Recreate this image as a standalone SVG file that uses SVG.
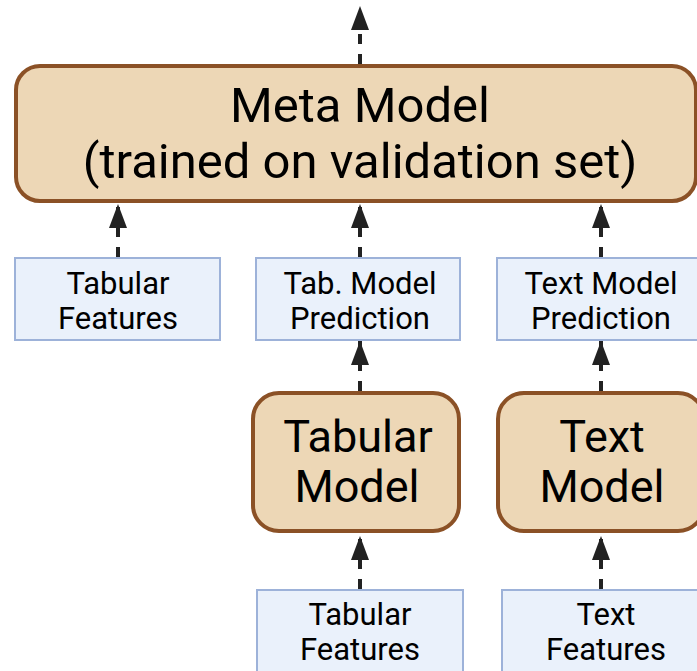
<svg xmlns="http://www.w3.org/2000/svg" width="697" height="671" viewBox="0 0 697 671">
  <style>
    .model { fill: #EDD7B6; stroke: #8B5126; stroke-width: 4; }
    .data { fill: #EAF1FB; stroke: #9DB2D9; stroke-width: 2; }
    .big { font-family: Roboto, "Liberation Sans", sans-serif; font-size: 49px; fill: #000; text-anchor: middle; }
    .mid { font-family: Roboto, "Liberation Sans", sans-serif; font-size: 45px; fill: #000; text-anchor: middle; }
    .small { font-family: Roboto, "Liberation Sans", sans-serif; font-size: 31px; fill: #000; text-anchor: middle; }
    .conn { stroke: #222; stroke-width: 4; stroke-dasharray: 10 10; fill: none; }
  </style>
  <defs>
    <marker id="head" markerUnits="userSpaceOnUse" markerWidth="24" markerHeight="18" refX="24" refY="9" orient="auto" viewBox="0 0 24 18">
      <path d="M0,0 L24,9 L0,18 Z" fill="#222"/>
    </marker>
  </defs>

  <g id="connectors">
    <line class="conn" x1="360" y1="64" x2="360" y2="6" marker-end="url(#head)"/>
    <line class="conn" x1="118" y1="257" x2="118" y2="204" marker-end="url(#head)"/>
    <line class="conn" x1="360" y1="257" x2="360" y2="204" marker-end="url(#head)"/>
    <line class="conn" x1="601" y1="257" x2="601" y2="204" marker-end="url(#head)"/>
    <line class="conn" x1="360" y1="391" x2="360" y2="341" marker-end="url(#head)"/>
    <line class="conn" x1="601" y1="391" x2="601" y2="341" marker-end="url(#head)"/>
    <line class="conn" x1="360" y1="589" x2="360" y2="536" marker-end="url(#head)"/>
    <line class="conn" x1="601" y1="589" x2="601" y2="536" marker-end="url(#head)"/>
  </g>

  <g id="meta-model">
    <rect class="model" x="16" y="66" width="680" height="135" rx="24"/>
    <text class="big" x="360" y="122">Meta Model</text>
    <text class="big" x="360" y="178">(trained on validation set)</text>
  </g>

  <g id="tabular-features-meta">
    <rect class="data" x="15" y="258" width="205" height="82"/>
    <text class="small" x="118" y="294">Tabular</text>
    <text class="small" x="118" y="329">Features</text>
  </g>

  <g id="tab-model-prediction">
    <rect class="data" x="256" y="258" width="204" height="82"/>
    <text class="small" x="360" y="294">Tab. Model</text>
    <text class="small" x="360" y="329">Prediction</text>
  </g>

  <g id="text-model-prediction">
    <rect class="data" x="497" y="258" width="204" height="82"/>
    <text class="small" x="601" y="294">Text Model</text>
    <text class="small" x="601" y="329">Prediction</text>
  </g>

  <g id="tabular-model">
    <rect class="model" x="253" y="393" width="206" height="138" rx="26"/>
    <text class="mid" x="358" y="452">Tabular</text>
    <text class="mid" x="357" y="502">Model</text>
  </g>

  <g id="text-model">
    <rect class="model" x="498" y="393" width="206" height="138" rx="26"/>
    <text class="mid" x="602" y="452">Text</text>
    <text class="mid" x="602" y="502">Model</text>
  </g>

  <g id="tabular-features">
    <rect class="data" x="257" y="590" width="206" height="84"/>
    <text class="small" x="360" y="625">Tabular</text>
    <text class="small" x="360" y="660">Features</text>
  </g>

  <g id="text-features">
    <rect class="data" x="502" y="590" width="206" height="84"/>
    <text class="small" x="606" y="625">Text</text>
    <text class="small" x="606" y="660">Features</text>
  </g>
</svg>
